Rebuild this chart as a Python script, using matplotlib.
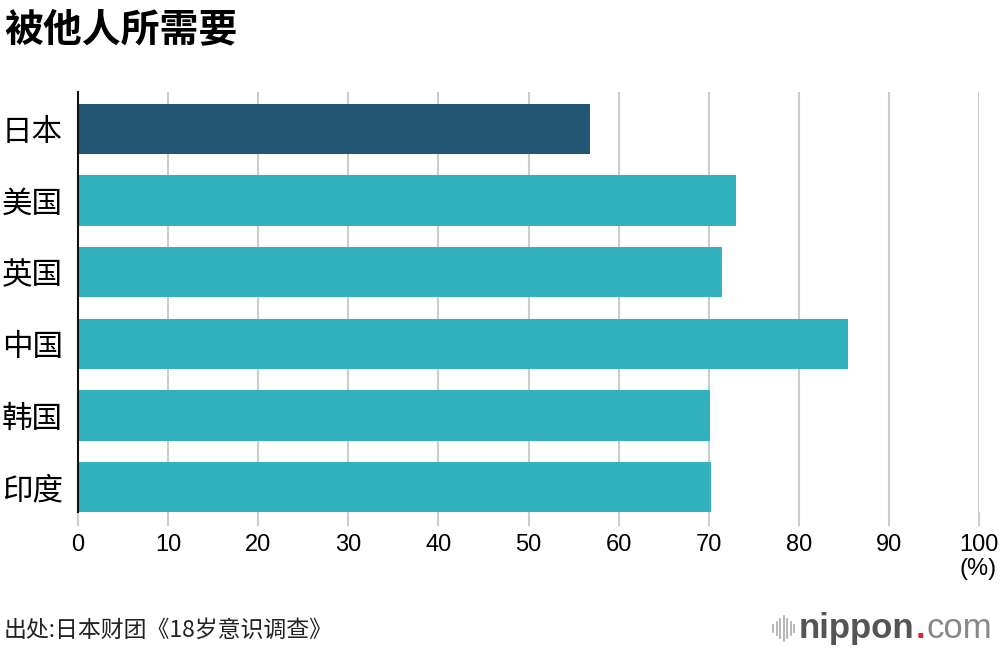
import matplotlib.pyplot as plt
from matplotlib.lines import Line2D

plt.rcParams['font.family'] = ['Noto Sans CJK SC', 'DejaVu Sans']

categories = ['日本', '美国', '英国', '中国', '韩国', '印度']
values = [56.8, 73.0, 71.5, 85.5, 70.1, 70.2]
bar_colors = ['#235673', '#34b1bf', '#34b1bf', '#34b1bf', '#34b1bf', '#34b1bf']
x_ticks = [0, 10, 20, 30, 40, 50, 60, 70, 80, 90, 100]

fig = plt.figure(figsize=(10, 6.5), dpi=100)
ax = fig.add_axes([0.078, 0.212, 0.901, 0.646])

y = list(range(len(categories)))
ax.barh(y, values, height=0.7, color=bar_colors, zorder=3)

ax.set_xlim(0, 100)
ax.set_ylim(5.35, -0.51)
ax.set_yticks(y)
ax.set_yticklabels(categories, fontsize=22, color='#000000')
ax.set_xticks(x_ticks)
ax.set_xticklabels([str(t) for t in x_ticks], fontsize=17,
                   family=['Liberation Sans', 'DejaVu Sans'])

ax.grid(axis='x', color='#cccccc', linewidth=1.5, zorder=0)
ax.tick_params(axis='x', length=10, width=1.5, color='#cccccc', pad=6)
ax.tick_params(axis='y', length=0, pad=11)
for s in ['top', 'right', 'bottom']:
    ax.spines[s].set_visible(False)
ax.spines['left'].set_color('#111111')
ax.spines['left'].set_linewidth(1.5)
ax.spines['left'].set_zorder(4)

fig.text(0.997, 0.125, '(%)', ha='right', va='center', fontsize=17,
         family=['Liberation Sans', 'DejaVu Sans'])

fig.text(0.004, 0.955, '被他人所需要', fontsize=28, fontweight='bold',
         ha='left', va='center')
fig.text(0.004, 0.03, '出处:日本财团《18岁意识调查》', fontsize=16.5,
         ha='left', va='center', color='#222222')

# logo
for i, h in enumerate([0.012, 0.02, 0.03, 0.038, 0.03, 0.02, 0.012]):
    xx = 0.773 + i * 0.0035
    fig.add_artist(Line2D([xx, xx], [0.033 - h / 2, 0.033 + h / 2],
                          color='#aaaaaa', linewidth=1.2))
logo_font = ['Liberation Sans', 'DejaVu Sans']
t1 = fig.text(0.799, 0.033, 'nippon', fontsize=25, fontweight='bold',
              color='#555555', ha='left', va='center', family=logo_font)
fig.canvas.draw()
r = fig.canvas.get_renderer()
x1 = fig.transFigure.inverted().transform(t1.get_window_extent(r))[1][0]
t2 = fig.text(x1 + 0.001, 0.033, '.', fontsize=25, fontweight='bold',
              color='#e0262c', ha='left', va='center', family=logo_font)
x2 = fig.transFigure.inverted().transform(t2.get_window_extent(r))[1][0]
fig.text(x2 + 0.001, 0.033, 'com', fontsize=25, color='#888888',
         ha='left', va='center', family=logo_font)

plt.savefig('out.png', dpi=100)
